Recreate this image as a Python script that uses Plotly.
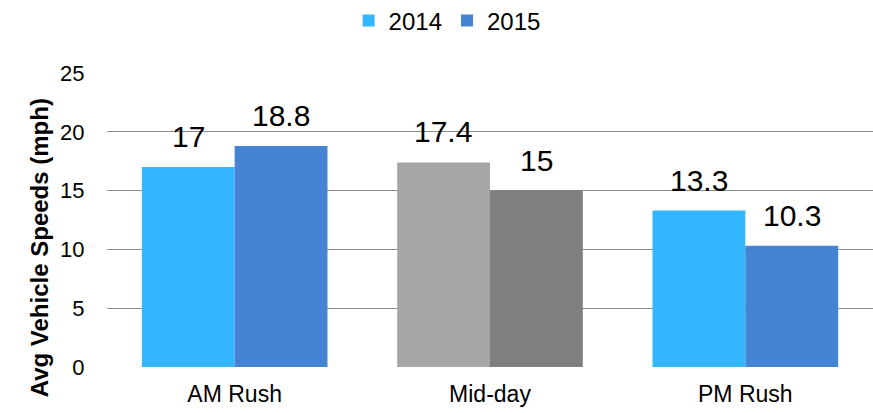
import plotly.graph_objects as go

# data
categories = ["AM Rush", "Mid-day", "PM Rush"]
speeds_2014 = [17, 17.4, 13.3]
speeds_2015 = [18.8, 15, 10.3]
colors_2014 = ["#33B5FF", "#A6A6A6", "#33B5FF"]
colors_2015 = ["#4583D3", "#7F7F7F", "#4583D3"]
y_ticks = [0, 5, 10, 15, 20, 25]

FONT = "Liberation Sans, Arial, sans-serif"

fig = go.Figure()
fig.add_trace(go.Bar(name="2014", x=categories, y=speeds_2014,
                     marker=dict(color=colors_2014, line=dict(width=0))))
fig.add_trace(go.Bar(name="2015", x=categories, y=speeds_2015,
                     marker=dict(color=colors_2015, line=dict(width=0))))

# value labels above each bar
half = 768 / 3 * (1 - 0.273) / 4
annotations = []
for cat, v in zip(categories, speeds_2014):
    annotations.append(dict(x=cat, y=v, text=str(v), xshift=-half, yshift=12,
                            yanchor="bottom", showarrow=False,
                            font=dict(size=30, color="#000000", family=FONT)))
for cat, v in zip(categories, speeds_2015):
    annotations.append(dict(x=cat, y=v, text=str(v), xshift=half, yshift=12,
                            yanchor="bottom", showarrow=False,
                            font=dict(size=30, color="#000000", family=FONT)))

# y axis title
annotations.append(dict(xref="paper", yref="paper", x=-0.087, y=0.405,
                        text="<b>Avg Vehicle Speeds (mph)</b>", textangle=-90,
                        showarrow=False, xanchor="center", yanchor="middle",
                        font=dict(size=24, color="#000000", family=FONT)))

fig.update_layout(
    width=873, height=413,
    margin=dict(l=107, r=0, t=73, b=46, autoexpand=False),
    paper_bgcolor="white", plot_bgcolor="white",
    barmode="group", bargap=0.273, bargroupgap=0,
    font=dict(family=FONT, color="#000000"),
    showlegend=True,
    legend=dict(orientation="h", x=0.444, xanchor="center", y=1.177, yanchor="middle",
                font=dict(size=24, family=FONT), itemwidth=30, tracegroupgap=0),
    annotations=annotations,
)
fig.update_yaxes(range=[0, 25], tickvals=y_ticks, showgrid=True, gridcolor="#8C8C8C",
                 gridwidth=1, zeroline=False, showline=False, automargin=False,
                 ticks="outside", ticklen=17, tickcolor="rgba(0,0,0,0)",
                 tickfont=dict(size=22, family=FONT))
fig.update_xaxes(showgrid=False, showline=False, automargin=False,
                 ticks="outside", ticklen=6,
                 tickcolor="rgba(0,0,0,0)", tickfont=dict(size=23, family=FONT))

# drop the browser's default body margin so the figure sits at the page corner
fig.write_html("out.html", config={"displayModeBar": False},
               post_script="document.body.style.margin='0';")
